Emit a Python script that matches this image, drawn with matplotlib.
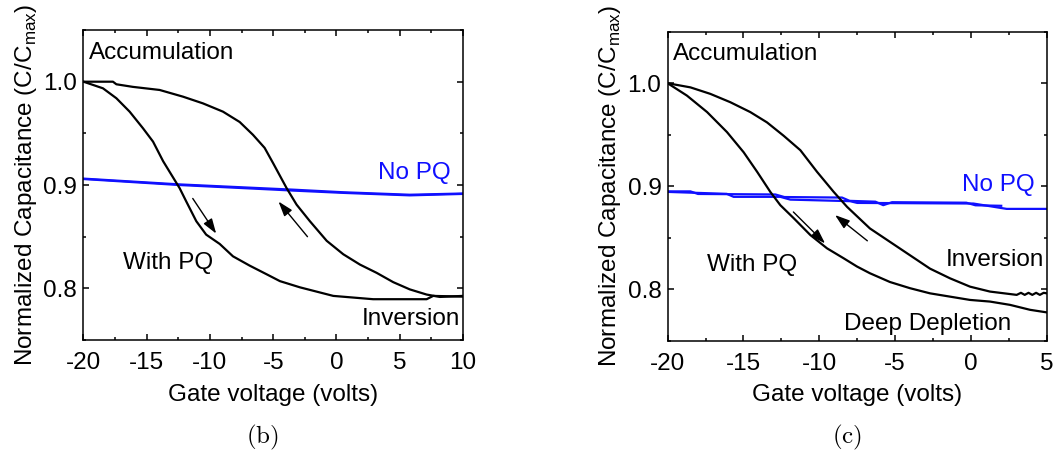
import matplotlib
matplotlib.use("Agg")
import matplotlib.pyplot as plt
from matplotlib.ticker import MultipleLocator, FormatStrFormatter

plt.rcParams['font.family'] = ['Liberation Sans', 'DejaVu Sans']
plt.rcParams['mathtext.fontset'] = 'custom'
plt.rcParams['mathtext.rm'] = 'Liberation Sans'

# ---- panel (b): sweep from -20 V to 10 V ----
b_fwd_v = [-20, -18.46, -17.4, -16.35, -15.3, -14.5, -13.7, -12.9, -12.4, -11.87, -11.08,
           -10.3, -9.23, -8.18, -6.86, -5.5, -4.47, -2.89, -1.3, -0.25, 2.9, 7.13, 7.65, 10]
b_fwd_c = [1.0, 0.9936, 0.984, 0.971, 0.955, 0.942, 0.923, 0.907, 0.897, 0.884, 0.865,
           0.852, 0.843, 0.831, 0.822, 0.8135, 0.807, 0.801, 0.796, 0.7927, 0.7895, 0.7895,
           0.7927, 0.792]
b_rev_v = [-20, -17.67, -17.4, -16.1, -13.98, -12.13, -10.55, -8.97, -7.65, -6.6, -5.68,
           -5.0, -3.94, -3.15, -2.1, -0.77, 0.54, 1.86, 3.18, 4.49, 5.8, 7.13, 8.18, 10]
b_rev_c = [1.0, 1.0, 0.9975, 0.995, 0.992, 0.9855, 0.979, 0.971, 0.961, 0.9486, 0.936,
           0.921, 0.897, 0.881, 0.865, 0.846, 0.833, 0.823, 0.815, 0.806, 0.799, 0.794,
           0.7917, 0.7927]
b_nopq_fwd_v = [-20, -12.4, -5.0, -3.4, 0.54, 5.8, 10]
b_nopq_fwd_c = [0.9058, 0.9000, 0.8956, 0.8946, 0.8924, 0.8900, 0.8914]
b_nopq_rev_v = [-20, -12.4, -5.0, -3.4, 0.54, 5.8, 10]
b_nopq_rev_c = [0.9062, 0.9006, 0.8964, 0.8955, 0.8930, 0.8906, 0.8918]

# ---- panel (c): sweep from -20 V to 5 V ----
c_fwd_v = [-20, -18.73, -17.4, -16.09, -14.99, -14.1, -13.23, -12.57, -11.69, -10.59,
           -9.49, -8.39, -7.51, -6.66, -5.34, -4.02, -2.7, -1.38, -0.06, 1.26, 2.58,
           3.9, 5]
c_fwd_c = [1.0, 0.988, 0.972, 0.9526, 0.933, 0.914, 0.8945, 0.8816, 0.869, 0.8526,
           0.8397, 0.830, 0.822, 0.8155, 0.807, 0.801, 0.796, 0.7928, 0.7896, 0.788,
           0.7848, 0.780, 0.7775]
c_rev_v = [-20, -18.5, -17.19, -15.87, -14.55, -13.45, -12.35, -11.25, -10.15, -9.05,
           -8.17, -6.66, -5.34, -4.02, -2.7, -1.38, -0.06, 1.26, 3.02,
           3.3, 3.55, 3.8, 4.05, 4.3, 4.55, 4.8, 5]
c_rev_c = [1.0, 0.996, 0.9897, 0.9816, 0.972, 0.962, 0.949, 0.935, 0.914, 0.8945,
           0.880, 0.859, 0.846, 0.833, 0.820, 0.8106, 0.8025, 0.7977, 0.7945,
           0.7965, 0.7945, 0.7965, 0.7945, 0.7965, 0.7945, 0.7965, 0.796]
c_nopq_fwd_v = [-20, -16.1, -15.65, -12.57, -11.91, -7.97, -7.5, 0.16, 2.36, 5]
c_nopq_fwd_c = [0.8945, 0.8926, 0.8897, 0.8897, 0.8870, 0.8855, 0.8838, 0.8832, 0.8780,
                0.8780]
c_nopq_rev_v = [-20, -18.5, -18.0, -12.9, -12.3, -8.5, -8.0, -6.3, -5.78, -5.2, -0.3, 0.3, 2.0]
c_nopq_rev_c = [0.8950, 0.8950, 0.8925, 0.8920, 0.8895, 0.8890, 0.8858, 0.8850, 0.8816,
                0.8845, 0.8840, 0.8815, 0.8810]

fig = plt.figure(figsize=(10.62, 4.55), dpi=100)
ax_b = fig.add_axes([0.0786, 0.2527, 0.3573, 0.6813])
ax_c = fig.add_axes([0.6287, 0.2512, 0.3569, 0.6790])

FS = 17.5
BLUE = '#1010ff'


def style_axes(ax, xmax):
    ax.set_xlim(-20, xmax)
    ax.set_ylim(0.75, 1.05)
    ax.xaxis.set_major_locator(MultipleLocator(5))
    ax.xaxis.set_minor_locator(MultipleLocator(2.5))
    ax.yaxis.set_major_locator(MultipleLocator(0.1))
    ax.yaxis.set_minor_locator(MultipleLocator(0.05))
    ax.yaxis.set_major_formatter(FormatStrFormatter('%.1f'))
    ax.xaxis.set_major_formatter(FormatStrFormatter('%d'))
    ax.tick_params(which='both', direction='in', top=True, right=True, width=1.1)
    ax.tick_params(which='major', length=4.5, labelsize=FS)
    ax.tick_params(which='minor', length=2.5)
    ax.tick_params(axis='x', which='major', pad=8.5)
    ax.tick_params(axis='y', which='major', pad=4.5)
    for s in ax.spines.values():
        s.set_linewidth(1.1)
    ax.set_xlabel('Gate voltage (volts)', fontsize=FS, labelpad=7)
    ax.set_ylabel(r'Normalized Capacitance (C/C$_{\mathregular{max}}$)', fontsize=FS, labelpad=3)


def sweep_arrow(ax, tail, head):
    ax.annotate('', xy=head, xytext=tail,
                arrowprops=dict(arrowstyle='-|>,head_length=0.9,head_width=0.3',
                                lw=1.0, color='black', shrinkA=0, shrinkB=0))


# panel (b)
ax = ax_b
ax.plot(b_nopq_fwd_v, b_nopq_fwd_c, color=BLUE, lw=1.6)
ax.plot(b_nopq_rev_v, b_nopq_rev_c, color=BLUE, lw=1.6)
ax.plot(b_fwd_v, b_fwd_c, color='black', lw=1.6)
ax.plot(b_rev_v, b_rev_c, color='black', lw=1.6)
sweep_arrow(ax, (-11.36, 0.887), (-9.51, 0.853))
sweep_arrow(ax, (-2.29, 0.850), (-4.58, 0.884))
ax.text(-19.53, 1.0273, 'Accumulation', fontsize=FS, va='center', ha='left')
ax.text(3.32, 0.9116, 'No PQ', fontsize=FS, va='center', ha='left', color=BLUE)
ax.text(-16.84, 0.8248, 'With PQ', fontsize=FS, va='center', ha='left')
ax.text(2.0, 0.7707, 'Inversion', fontsize=FS, va='center', ha='left')
style_axes(ax, 10)

# panel (c)
ax = ax_c
ax.plot(c_nopq_fwd_v, c_nopq_fwd_c, color=BLUE, lw=1.6)
ax.plot(c_nopq_rev_v, c_nopq_rev_c, color=BLUE, lw=1.6)
ax.plot(c_fwd_v, c_fwd_c, color='black', lw=1.6)
ax.plot(c_rev_v, c_rev_c, color='black', lw=1.6)
sweep_arrow(ax, (-11.71, 0.875), (-9.62, 0.8445))
sweep_arrow(ax, (-6.83, 0.847), (-8.96, 0.872))
ax.text(-19.67, 1.0284, 'Accumulation', fontsize=FS, va='center', ha='left')
ax.text(-0.56, 0.9016, 'No PQ', fontsize=FS, va='center', ha='left', color=BLUE)
ax.text(-17.43, 0.8235, 'With PQ', fontsize=FS, va='center', ha='left')
ax.text(-1.64, 0.8284, 'Inversion', fontsize=FS, va='center', ha='left')
ax.text(-8.37, 0.7665, 'Deep Depletion', fontsize=FS, va='center', ha='left')
style_axes(ax, 5)

# sub-figure captions
fig.text(262 / 1062, 1 - 437 / 455, r'$\mathrm{(b)}$', fontsize=18, ha='center', va='center',
         math_fontfamily='cm')
fig.text(847 / 1062, 1 - 437 / 455, r'$\mathrm{(c)}$', fontsize=18, ha='center', va='center',
         math_fontfamily='cm')

fig.savefig('out.png', dpi=100)
